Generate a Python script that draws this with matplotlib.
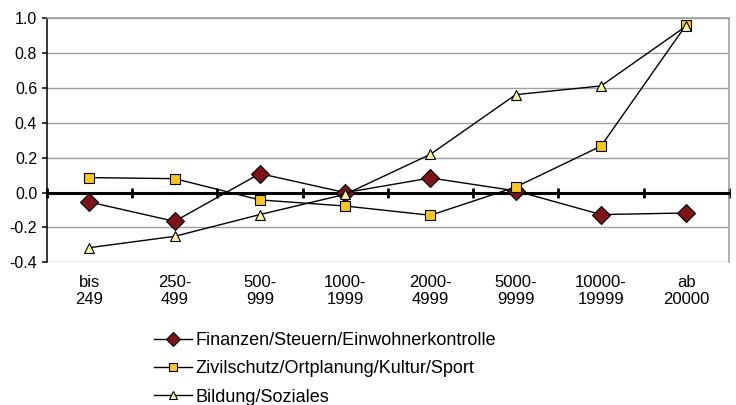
import matplotlib
matplotlib.use("Agg")
import matplotlib.pyplot as plt
import numpy as np

plt.rcParams['font.family'] = ['Liberation Sans', 'DejaVu Sans']

categories = ["bis\n249", "250-\n499", "500-\n999", "1000-\n1999", "2000-\n4999",
              "5000-\n9999", "10000-\n19999", "ab\n20000"]
finanzen = [-0.054, -0.165, 0.109, 0.0, 0.084, 0.01, -0.126, -0.117]
zivilschutz = [0.086, 0.080, -0.042, -0.077, -0.130, 0.032, 0.267, 0.964]
bildung = [-0.316, -0.251, -0.126, -0.01, 0.22, 0.562, 0.612, 0.956]
series_names = ["Finanzen/Steuern/Einwohnerkontrolle",
                "Zivilschutz/Ortplanung/Kultur/Sport",
                "Bildung/Soziales"]
yticks = [-0.4, -0.2, 0.0, 0.2, 0.4, 0.6, 0.8, 1.0]

fig = plt.figure(figsize=(7.36, 4.05), dpi=100)
ax = fig.add_axes([0.0634, 0.3523, 0.9271, 0.6025])

x = np.arange(len(categories))
ax.plot(x, finanzen, color='black', lw=1, marker='D', ms=9, mfc='#7B1518', mec='black', mew=0.8,
        label=series_names[0], zorder=5)
ax.plot(x, zivilschutz, color='black', lw=1, marker='s', ms=7.2, mfc='#F8C61C', mec='black', mew=0.8,
        label=series_names[1], zorder=5)
ax.plot(x, bildung, color='black', lw=1, marker='^', ms=7.8, mfc='#F8F2A2', mec='black', mew=0.8,
        label=series_names[2], zorder=5)

ax.set_xlim(-0.5, len(categories) - 0.5)
ax.set_ylim(-0.4, 1.0)
ax.set_yticks(yticks)
ax.set_yticklabels([f"{v:.1f}" for v in yticks], fontsize=11.5)
ax.yaxis.grid(True, color='#a0a0a0', lw=1)
ax.set_axisbelow(True)

# x axis line at zero with boundary ticks
ax.spines['bottom'].set_position(('data', 0))
ax.spines['bottom'].set_linewidth(2.2)
ax.spines['bottom'].set_zorder(3)
ax.set_xticks(np.arange(-0.5, len(categories), 1.0))
ax.tick_params(axis='x', direction='inout', length=7.5, width=2, labelbottom=False)
ax.spines['left'].set_linewidth(1.1)
ax.tick_params(axis='y', direction='out', length=3.8, width=1.1, pad=3)
ax.spines['right'].set_color('#a0a0a0')
ax.spines['top'].set_color('#a0a0a0')
ax.spines['right'].set_linewidth(1.2)
ax.spines['top'].set_linewidth(1.2)

sec = ax.secondary_xaxis(0.0)
sec.set_xticks(x)
sec.set_xticklabels(categories, fontsize=12, linespacing=1.15)
sec.tick_params(length=0, pad=9)
sec.spines['bottom'].set_visible(False)

leg = fig.legend(loc='upper left', bbox_to_anchor=(147/736, 1 - 325/405), frameon=False,
                 fontsize=13, handlelength=2.1, handletextpad=0.2, labelspacing=0.62,
                 markerscale=0.8, borderaxespad=0)

fig.savefig("out.png", dpi=100)
